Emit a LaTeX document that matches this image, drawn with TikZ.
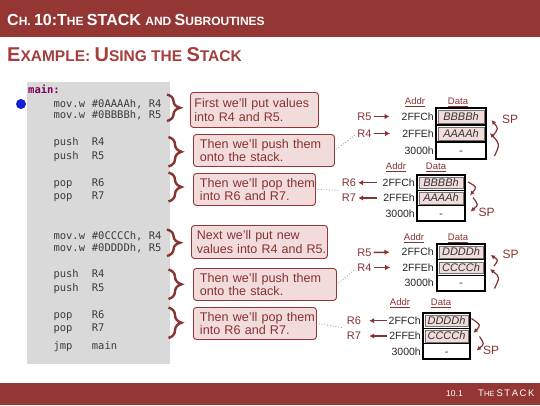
\documentclass[tikz,border=0pt]{standalone}
\usepackage{fontspec}
\setmainfont{Liberation Sans}
\newfontfamily\codefont{DejaVu Sans Mono}
\usetikzlibrary{decorations.pathreplacing,arrows.meta,calc}
\definecolor{hdr}{RGB}{148,54,52}
\definecolor{subt}{RGB}{165,62,60}
\definecolor{txt}{RGB}{135,50,48}
\definecolor{bracecol}{RGB}{135,52,50}
\definecolor{pinkfill}{RGB}{242,220,219}
\definecolor{codegray}{RGB}{217,217,217}
\definecolor{kw}{RGB}{127,0,85}
\definecolor{codetxt}{RGB}{60,60,60}
\definecolor{dotblue}{RGB}{20,30,215}
\begin{document}
\begin{tikzpicture}[x=1pt,y=-1pt,
 code/.style={anchor=base west,inner sep=0pt,font=\codefont\fontsize{10.5}{12}\selectfont,text=codetxt},
 cbox/.style={draw=hdr,fill=pinkfill,rounded corners=3pt,line width=0.9pt,anchor=north west,inner ysep=0pt,align=left,text=txt},
 fa/.style={font=\fontsize{12.5}{13.2}\selectfont},
 fb/.style={font=\fontsize{12.6}{12.4}\selectfont},
 brc/.style={draw=bracecol,line width=2.4pt,decorate,decoration={brace,amplitude=13pt}},
 tabline/.style={draw=black,line width=1.3pt},
 cellfill/.style={fill=pinkfill,draw=black!55,line width=0.5pt},
 adr/.style={inner sep=0pt,anchor=east,text height=7.5pt,text depth=0pt,font=\fontsize{10.5}{12}\selectfont,text=black!85},
 dat/.style={inner sep=0pt,text height=7.5pt,text depth=0pt,font=\itshape\fontsize{11}{12}\selectfont,text=black!80},
 hd/.style={inner sep=0pt,font=\fontsize{9.5}{11}\selectfont,text=txt},
 rl/.style={inner sep=0pt,text height=7.8pt,text depth=0pt,font=\fontsize{11}{12}\selectfont,text=txt},
 spl/.style={inner sep=0pt,text height=8.6pt,text depth=0pt,font=\fontsize{12}{13}\selectfont,text=txt},
 rarrow/.style={draw=txt,line width=1.5pt,-{Latex[length=5pt,width=5.5pt]}},
 sparrow/.style={draw=txt,line width=1.2pt,-{Latex[length=4.5pt,width=4.5pt]}},
 dotcon/.style={draw=black!45,line width=0.8pt,dotted},
]
\useasboundingbox (0,0) rectangle (540,405);
\fill[white] (0,0) rectangle (540,405);
% header and footer
\fill[hdr] (0,0) rectangle (540,37);
\fill[hdr] (0,383) rectangle (540,405);
\node[anchor=base west,inner sep=0pt,text=white,font=\bfseries] (title) at (7,25)
 {{\fontsize{16}{18}\selectfont C}{\fontsize{12}{14}\selectfont H. }{\fontsize{16}{18}\selectfont 10:T}{\fontsize{12}{14}\selectfont HE }{\fontsize{16}{18}\selectfont STACK }{\fontsize{12}{14}\selectfont AND }{\fontsize{16}{18}\selectfont S}{\fontsize{12}{14}\selectfont UBROUTINES}};
\node[anchor=base west,inner sep=0pt,text=subt,font=\bfseries] (subtitle) at (7,61.5)
 {{\fontsize{20}{22}\selectfont E}{\fontsize{15.5}{18}\selectfont XAMPLE: }{\fontsize{20}{22}\selectfont U}{\fontsize{15.5}{18}\selectfont SING THE }{\fontsize{20}{22}\selectfont S}{\fontsize{15.5}{18}\selectfont TACK}};
\node[anchor=base west,inner sep=0pt,text=white,font=\fontsize{8.5}{10}\selectfont] (pgnum) at (446,396) {10.1};
\node[anchor=base west,inner sep=0pt,text=white] (pgtitle) at (478,396)
 {{\fontsize{9.5}{10}\selectfont T}{\fontsize{7.5}{10}\selectfont HE }{\fontsize{9.5}{10}\selectfont S\,T\,A\,C\,K}};
% code panel
\fill[codegray] (27,82) rectangle (170,364);
\fill[dotblue] (21,104) circle (5pt);
\node[code,text=kw,font=\codefont\bfseries\fontsize{10.5}{12}\selectfont] (lmain) at (28,93) {main:};
\node[code] (m1) at (53.3,107) {mov.w};  \node[code] (o1) at (91.7,107) {\#0AAAAh, R4};
\node[code] (m2) at (53.3,118.5) {mov.w}; \node[code] (o2) at (91.7,118.5) {\#0BBBBh, R5};
\node[code] (m3) at (53.3,145.5) {push};  \node[code] (o3) at (91.7,145.5) {R4};
\node[code] (m4) at (53.3,159) {push};    \node[code] (o4) at (91.7,159) {R5};
\node[code] (m5) at (53.3,186) {pop};     \node[code] (o5) at (91.7,186) {R6};
\node[code] (m6) at (53.3,199.5) {pop};   \node[code] (o6) at (91.7,199.5) {R7};
\node[code] (m7) at (53.3,239.5) {mov.w}; \node[code] (o7) at (91.7,239.5) {\#0CCCCh, R4};
\node[code] (m8) at (53.3,251) {mov.w};   \node[code] (o8) at (91.7,251) {\#0DDDDh, R5};
\node[code] (m9) at (53.3,277.5) {push};  \node[code] (o9) at (91.7,277.5) {R4};
\node[code] (m10) at (53.3,291) {push};   \node[code] (o10) at (91.7,291) {R5};
\node[code] (m11) at (53.3,318) {pop};    \node[code] (o11) at (91.7,318) {R6};
\node[code] (m12) at (53.3,331) {pop};    \node[code] (o12) at (91.7,331) {R7};
\node[code] (m13) at (53.3,349.5) {jmp};  \node[code] (o13) at (91.7,349.5) {main};
% braces
\draw[brc] (167,94.5) -- (167,121);
\draw[brc] (168.5,137) -- (168.5,166.5);
\draw[brc] (168.5,172.5) -- (168.5,201.5);
\draw[brc] (167,229.5) -- (167,256);
\draw[brc] (168.5,269.5) -- (168.5,299);
\draw[brc] (168.5,307.5) -- (168.5,338);
% comment boxes
\node[cbox,fa,inner xsep=4pt,text width=120pt,minimum height=35pt] (b1) at (190,92) {\mbox{First we'll put values}\\\mbox{into R4 and R5.}};
\node[cbox,fb,inner xsep=6.5pt,text width=128pt,minimum height=32pt] (b2) at (193,134) {\mbox{Then we'll push them}\\\mbox{onto the stack.}};
\node[cbox,fb,inner xsep=6.5pt,text width=109pt,minimum height=32pt] (b3) at (193,173) {\mbox{Then we'll pop them}\\\mbox{into R6 and R7.}};
\node[cbox,fa,inner xsep=5.5pt,text width=125pt,minimum height=33pt] (b4) at (191,225) {\mbox{Next we'll put new}\\\mbox{values into R4 and R5.}};
\node[cbox,fb,inner xsep=6.5pt,text width=130pt,minimum height=32pt] (b5) at (193,268) {\mbox{Then we'll push them}\\\mbox{onto the stack.}};
\node[cbox,fb,inner xsep=6.5pt,text width=110pt,minimum height=32pt] (b6) at (193,307) {\mbox{Then we'll pop them}\\\mbox{into R6 and R7.}};
% ---------- table 1 ----------
\draw[tabline] (436,108) rectangle (486,159);
\draw[tabline] (436,125) -- (486,125);
\draw[tabline] (436,142) -- (486,142);
\filldraw[cellfill] (438.2,110.2) rectangle (483.8,123.3);
\filldraw[cellfill] (438.2,127.2) rectangle (483.8,140.3);
\node[hd] (t1h1) at (415,102) {\underline{Addr}};
\node[hd] (t1h2) at (458,102) {\underline{Data}};
\node[adr] (t1a1) at (434,116.5) {2FFCh};
\node[adr] (t1a2) at (434,133.5) {2FFEh};
\node[adr] (t1a3) at (434,150.5) {3000h};
\node[dat] (t1d1) at (461,116.5) {BBBBh};
\node[dat] (t1d2) at (461,133.5) {AAAAh};
\node[dat] (t1d3) at (461,150.5) {-};
\node[rl] (t1r5) at (364.5,116.5) {R5};
\node[rl] (t1r4) at (364.5,133.5) {R4};
\draw[rarrow,shorten <=2pt,shorten >=12pt] (t1r5) -- (t1a1);
\draw[rarrow,shorten <=2pt,shorten >=12pt] (t1r4) -- (t1a2);
\node[spl] (t1sp) at (510,119) {SP};
\draw[sparrow] (493.5,135) .. controls (498.5,128.5) .. (491.5,120);
\draw[sparrow] (494.5,156) .. controls (500,144) .. (490,133);
% ---------- table 2 ----------
\draw[tabline] (417,175) rectangle (465,221);
\draw[tabline] (417,190.3) -- (465,190.3);
\draw[tabline] (417,205.7) -- (465,205.7);
\filldraw[cellfill] (419.2,177.2) rectangle (462.8,188.6);
\filldraw[cellfill] (419.2,192.5) rectangle (462.8,204);
\node[hd] (t2h1) at (396,167) {\underline{Addr}};
\node[hd] (t2h2) at (436,167) {\underline{Data}};
\node[adr] (t2a1) at (415,182.7) {2FFCh};
\node[adr] (t2a2) at (415,198) {2FFEh};
\node[adr] (t2a3) at (415,213.3) {3000h};
\node[dat] (t2d1) at (441,182.7) {BBBBh};
\node[dat] (t2d2) at (441,198) {AAAAh};
\node[dat] (t2d3) at (441,213.3) {-};
\node[rl] (t2r6) at (349,182.7) {R6};
\node[rl] (t2r7) at (349,198) {R7};
\draw[rarrow,shorten <=6pt,shorten >=2pt] (t2a1) -- (t2r6);
\draw[rarrow,shorten <=6pt,shorten >=2pt] (t2a2) -- (t2r7);
\node[spl] (t2sp) at (486.5,212) {SP};
\draw[sparrow] (468,182) .. controls (477,187) .. (470,195.5);
\draw[sparrow] (473,197.5) .. controls (478.5,205) .. (470.5,211.5);
% ---------- table 3 ----------
\draw[tabline] (437,244) rectangle (485,291);
\draw[tabline] (437,259.7) -- (485,259.7);
\draw[tabline] (437,275.3) -- (485,275.3);
\filldraw[cellfill] (439.2,246.2) rectangle (482.8,258);
\filldraw[cellfill] (439.2,261.9) rectangle (482.8,273.6);
\node[hd] (t3h1) at (414,238) {\underline{Addr}};
\node[hd] (t3h2) at (458,238) {\underline{Data}};
\node[adr] (t3a1) at (434,251.8) {2FFCh};
\node[adr] (t3a2) at (434,267.5) {2FFEh};
\node[adr] (t3a3) at (434,283.2) {3000h};
\node[dat] (t3d1) at (461,251.8) {DDDDh};
\node[dat] (t3d2) at (461,267.5) {CCCCh};
\node[dat] (t3d3) at (461,283.2) {-};
\node[rl] (t3r5) at (364.5,252.5) {R5};
\node[rl] (t3r4) at (364.5,267.5) {R4};
\draw[rarrow,shorten <=2pt,shorten >=12pt] (t3r5) -- (t3a1);
\draw[rarrow,shorten <=2pt,shorten >=12pt] (t3r4) -- (t3a2);
\node[spl] (t3sp) at (510.5,254.5) {SP};
\draw[sparrow] (494,266) .. controls (498.5,260) .. (490.5,255);
\draw[sparrow] (494.5,288.5) .. controls (500,277) .. (490,269);
% ---------- table 4 ----------
\draw[tabline] (423,313) rectangle (470,359);
\draw[tabline] (423,328.3) -- (470,328.3);
\draw[tabline] (423,343.7) -- (470,343.7);
\filldraw[cellfill] (425.2,315.2) rectangle (467.8,326.6);
\filldraw[cellfill] (425.2,330.5) rectangle (467.8,342);
\node[hd] (t4h1) at (400,303) {\underline{Addr}};
\node[hd] (t4h2) at (441,303) {\underline{Data}};
\node[adr] (t4a1) at (421,320.7) {2FFCh};
\node[adr] (t4a2) at (421,336) {2FFEh};
\node[adr] (t4a3) at (421,351.3) {3000h};
\node[dat] (t4d1) at (446.5,320.7) {DDDDh};
\node[dat] (t4d2) at (446.5,336) {CCCCh};
\node[dat] (t4d3) at (446.5,351.3) {-};
\node[rl] (t4r6) at (354,320.7) {R6};
\node[rl] (t4r7) at (354,336) {R7};
\draw[rarrow,shorten <=2pt,shorten >=8pt] (t4a1) -- (t4r6);
\draw[rarrow,shorten <=2pt,shorten >=8pt] (t4a2) -- (t4r7);
\node[spl] (t4sp) at (491,350) {SP};
\draw[sparrow] (471.5,318.5) .. controls (481,325) .. (473.5,333);
\draw[sparrow] (479.5,336.5) .. controls (484.5,344) .. (476.5,350.5);
% dotted leaders
\draw[dotcon,shorten <=2pt,shorten >=2pt] (b2.east) -- (t1r4.west);
\draw[dotcon,shorten <=2pt,shorten >=4pt] (b3.east) -- ($(t2r6.west)!0.5!(t2r7.west)$);
\draw[dotcon,shorten <=2pt,shorten >=2pt] (b5.east) -- (t3r4.west);
\draw[dotcon,shorten <=2pt,shorten >=4pt] (b6.east) -- ($(t4r6.west)!0.5!(t4r7.west)$);
\end{tikzpicture}
\end{document}
